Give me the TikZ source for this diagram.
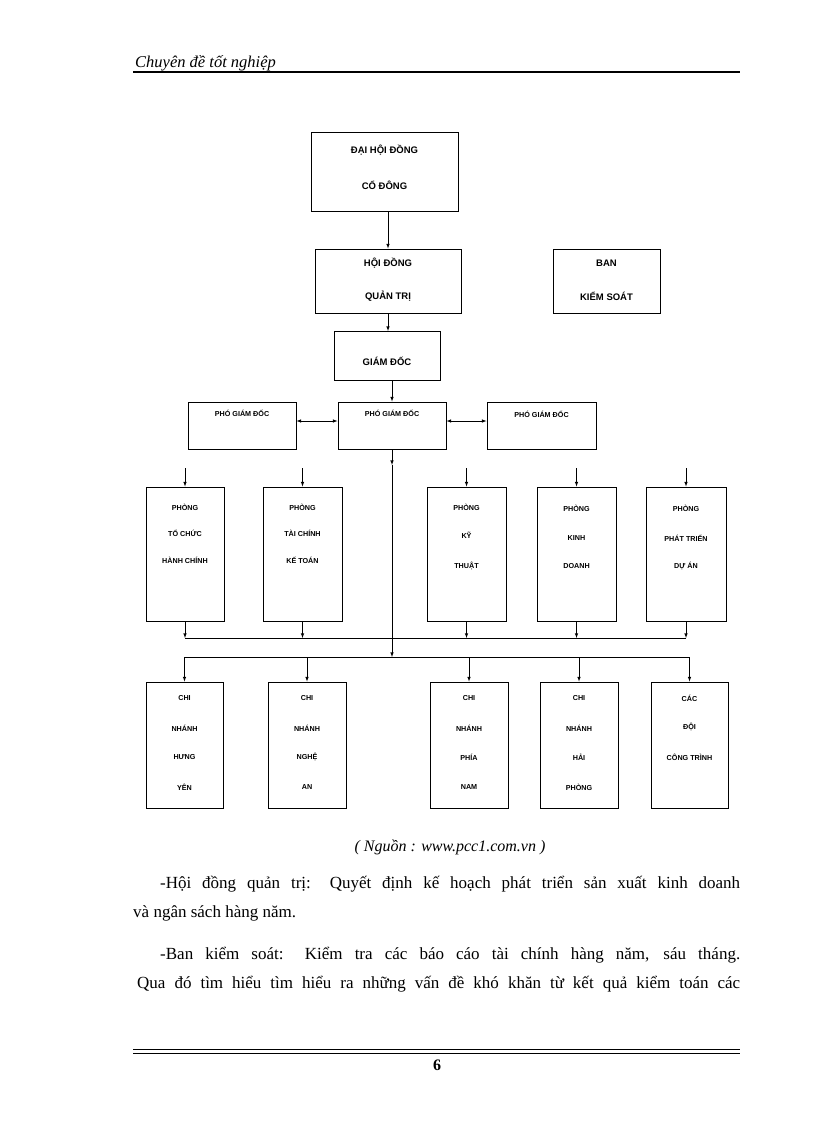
\documentclass[tikz,border=0pt]{standalone}
\usepackage{fontspec}
\setmainfont{Liberation Serif}
\newfontfamily\boxf{Liberation Sans}
\begin{document}
\begin{tikzpicture}[x=1pt,y=-1pt,
  bx/.style={draw,line width=1pt},
  tb/.style={font=\boxf\bfseries\fontsize{9.5}{10}\selectfont,inner sep=0},
  ts/.style={font=\boxf\bfseries\fontsize{7.2}{8}\selectfont,inner sep=0},
  ar/.style={-latex,line width=0.6pt},
  ln/.style={line width=0.6pt},
  para/.style={anchor=north west,inner sep=0,font=\fontsize{17}{19}\selectfont,text width=#1,align=justify}]
\useasboundingbox (0,0) rectangle (816,1123);
% header/footer
\node[anchor=base west,inner sep=0,font=\itshape\fontsize{16.5}{18}\selectfont] (hd) at (135,68) {Chuyên đề tốt nghiệp};
\draw[line width=1.5pt] (133,72) -- (740,72);
\draw[line width=1pt] (133,1049) -- (740,1049);
\draw[line width=0.5pt] (133,1053) -- (740,1053);
\node[font=\bfseries\fontsize{16}{17}\selectfont] (pg) at (437,1065) {6};
% boxes
\node[bx,minimum width=147,minimum height=79] (dh) at (384.5,172.5) {};
\node[tb] at (384.5,150) {ĐẠI HỘI ĐỒNG};
\node[tb] at (384.5,185) {CỔ ĐÔNG};
\node[bx,minimum width=146,minimum height=64] (hq) at (388,281) {};
\node[tb] at (388,263) {HỘI ĐỒNG};
\node[tb] at (388,296) {QUẢN TRỊ};
\node[bx,minimum width=107,minimum height=64] (bk) at (606.5,281) {};
\node[tb] at (606.5,263) {BAN};
\node[tb] at (606.5,296) {KIỂM SOÁT};
\node[bx,minimum width=106,minimum height=49] (gd) at (387,355.5) {};
\node[tb] at (387,361) {GIÁM ĐỐC};
\node[bx,minimum width=108,minimum height=47] (p1) at (242,425.5) {};
\node[bx,minimum width=108,minimum height=47] (p2) at (392,425.5) {};
\node[bx,minimum width=109,minimum height=47] (p3) at (541.5,425.5) {};
\node[ts] at (242,413) {PHÓ GIÁM ĐỐC};
\node[ts] at (392,413) {PHÓ GIÁM ĐỐC};
\node[ts] at (541.5,414) {PHÓ GIÁM ĐỐC};
\draw[ar] (388,212) -- (hq.north);
\draw[ar] (388,313) -- (388,331);
\draw[ar] (392,380) -- (p2.north);
\draw[latex-latex,line width=0.6pt] (p1.east |- 0,421) -- (p2.west |- 0,421);
\draw[latex-latex,line width=0.6pt] (p2.east |- 0,421) -- (p3.west |- 0,421);
% phong
\foreach \n/\a/\b in {f1/146/224,f2/263/342,f3/427/506,f4/537/616,f5/646/726}{
  \node[bx,minimum width=\b-\a,minimum height=134] (\n) at ({(\a+\b)/2},554) {};
  \coordinate (\n t) at ({(\a+\b)/2},468);
  \coordinate (\n b) at ({(\a+\b)/2},638);
  \draw[ar] (\n t) -- (\n.north);
  \draw[ar] (\n.south) -- (\n b);
}
\draw[ln] (f1b) -- (f5b);
\node[ts] at (185,507) {PHÒNG};\node[ts] at (185,533) {TỔ CHỨC};\node[ts] at (185,560) {HÀNH CHÍNH};
\node[ts] at (302.5,507) {PHÒNG};\node[ts] at (302.5,533) {TÀI CHÍNH};\node[ts] at (302.5,560) {KẾ TOÁN};
\node[ts] at (466.5,507) {PHÒNG};\node[ts] at (466.5,535) {KỸ};\node[ts] at (466.5,566) {THUẬT};
\node[ts] at (576.5,508) {PHÒNG};\node[ts] at (576.5,538) {KINH};\node[ts] at (576.5,566) {DOANH};
\node[ts] at (686,508) {PHÒNG};\node[ts] at (686,538) {PHÁT TRIỂN};\node[ts] at (686,566) {DỰ ÁN};
% branches
\coordinate (bus) at (392,657);
\draw[ar] (p2.south) -- (392,465);
\draw[ar] (392,465) -- (bus);
\foreach \n/\a/\b in {c1/146/223,c2/268/346,c3/430/508,c4/540/618,c5/651/728}{
  \node[bx,minimum width=\b-\a,minimum height=126] (\n) at ({(\a+\b)/2},745) {};
  \coordinate (\n t) at ({(\a+\b)/2},657);
  \draw[ar] (\n t) -- (\n.north);
}
\draw[ln] (c1t) -- (c5t);
\node[ts] at (184.5,698) {CHI};\node[ts] at (184.5,728) {NHÁNH};\node[ts] at (184.5,757) {HƯNG};\node[ts] at (184.5,787) {YÊN};
\node[ts] at (307,698) {CHI};\node[ts] at (307,728) {NHÁNH};\node[ts] at (307,757) {NGHỆ};\node[ts] at (307,787) {AN};
\node[ts] at (469,698) {CHI};\node[ts] at (469,728) {NHÁNH};\node[ts] at (469,757) {PHÍA};\node[ts] at (469,787) {NAM};
\node[ts] at (579,698) {CHI};\node[ts] at (579,728) {NHÁNH};\node[ts] at (579,757) {HẢI};\node[ts] at (579,787) {PHÒNG};
\node[ts] at (689.5,698) {CÁC};\node[ts] at (689.5,727) {ĐỘI};\node[ts] at (689.5,757) {CÔNG TRÌNH};
% text
\node[font=\itshape\fontsize{16}{17}\selectfont] (src) at (450,847) {( Nguồn : www.pcc1.com.vn )};
\node[para=580pt] (t1) at (160,876) {\parfillskip=0pt -Hội đồng quản trị: Quyết định kế hoạch phát triển sản xuất kinh doanh\par};
\node[para=607pt] (t2) at (133,905) {và ngân sách hàng năm.};
\node[para=580pt] (t3) at (160,947) {\parfillskip=0pt -Ban kiểm soát: Kiểm tra các báo cáo tài chính hàng năm, sáu tháng.\par};
\node[para=603pt] (t4) at (137,976) {\parfillskip=0pt Qua đó tìm hiểu tìm hiểu ra những vấn đề khó khăn từ kết quả kiểm toán các\par};
\end{tikzpicture}
\end{document}
